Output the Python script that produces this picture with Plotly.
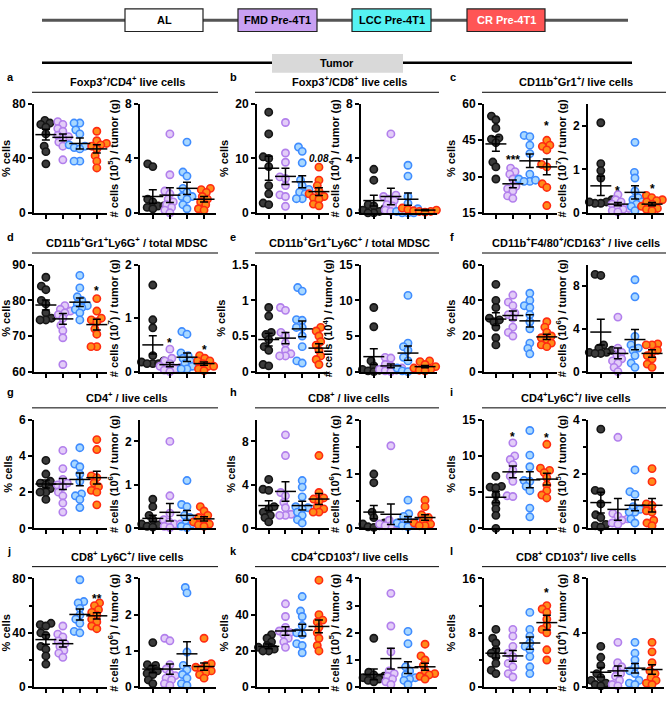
import math
import plotly.graph_objects as go

W, H = 667, 704
FONT = "Arial, Liberation Sans, sans-serif"

groups = ["AL", "FMD Pre-4T1", "LCC Pre-4T1", "CR Pre-4T1"]
fill_colors = ["#3b3b3b", "#e3cdf8", "#a9d8ff", "#ff8c1a"]
edge_colors = ["#151515", "#b27fec", "#3f8cff", "#ff2b12"]

# ---------------- data (AL, FMD, LCC, CR) ----------------
a_pct = [[68, 66, 65, 63, 58, 49, 45, 36],
         [67, 65, 62, 60, 57, 56, 55, 52, 49, 39],
         [66, 66, 61, 58, 50, 49, 48, 47, 38, 38],
         [60, 53, 51, 50, 49, 47, 42, 38, 33]]
a_pct_mean = [57.5, 55.5, 51, 47]
a_pct_sem = [4, 2.5, 4, 3]
a_num = [[3.6, 3.4, 1.0, 0.8, 0.5, 0.4, 0.3, 0.5],
         [5.8, 2.8, 1.6, 1.4, 1.0, 0.8, 0.6, 0.4, 0.2, 0.0],
         [5.2, 3.0, 2.7, 1.8, 1.5, 1.2, 1.2, 1.0, 0.6, 0.3],
         [1.8, 1.7, 1.5, 1.2, 1.0, 0.8, 0.6, 0.3, 0.2]]
a_num_mean = [1.2, 1.3, 1.8, 1.0]
a_num_sem = [0.5, 0.55, 0.45, 0.2]

b_pct = [[18.5, 14.5, 10.3, 10.0, 8.5, 5.0, 3.5, 1.8, 1.5],
         [16.6, 11.0, 9.3, 6.6, 6.3, 5.0, 3.3, 3.0, 1.2],
         [12.1, 11.3, 9.2, 6.0, 5.0, 4.3, 3.8, 3.5, 2.6, 2.6],
         [8.4, 6.0, 5.0, 4.0, 3.5, 3.0, 2.8, 2.5, 1.6, 1.3]]
b_pct_mean = [8.2, 6.7, 5.7, 3.9]
b_pct_sem = [2.2, 1.5, 1.1, 0.7]
b_num = [[3.2, 2.4, 0.6, 0.5, 0.3, 0.2, 0.1, 0.0, 0.0],
         [5.8, 1.3, 1.2, 1.0, 0.9, 0.6, 0.5, 0.2, 0.1],
         [3.5, 2.7, 1.2, 0.7, 0.3, 0.1, 0.0, 0.0, 0.0],
         [0.4, 0.35, 0.3, 0.25, 0.2, 0.15, 0.1, 0.1, 0.05]]
b_num_mean = [0.9, 1.2, 1.0, 0.2]
b_num_sem = [0.4, 0.6, 0.45, 0.05]

c_pct = [[55, 53.5, 50, 46, 45.5, 44, 36, 34, 29],
         [33.5, 32, 31, 29, 26, 25, 24, 22, 21],
         [47, 46.5, 43, 39.5, 31, 29, 28, 28, 28.5],
         [45, 43, 42.5, 41, 35, 34, 27, 25.5, 18]]
c_pct_mean = [43.5, 27, 36.5, 34]
c_pct_sem = [3, 1.6, 2.8, 3.3]
c_num = [[2.07, 1.13, 0.97, 0.8, 0.3, 0.25, 0.22, 0.22, 0.25],
         [0.42, 0.3, 0.25, 0.2, 0.15, 0.1, 0.08, 0.05, 0.02],
         [1.62, 0.93, 0.8, 0.5, 0.35, 0.3, 0.25, 0.2, 0.15, 0.05],
         [0.4, 0.35, 0.3, 0.28, 0.25, 0.2, 0.15, 0.1, 0.08, 0.05]]
c_num_mean = [0.62, 0.2, 0.47, 0.2]
c_num_sem = [0.22, 0.04, 0.15, 0.04]

d_pct = [[86.5, 84, 83, 80, 79, 76.5, 75, 74.5, 74.5],
         [78.5, 77.5, 77, 76.5, 76, 75, 73, 71.5, 69.5, 62],
         [87, 83.5, 81, 80, 79, 78.5, 78, 77.5, 76.5, 74.5],
         [80.5, 77, 75, 74.5, 74, 72, 70.5, 67, 67]]
d_pct_mean = [78.7, 74.8, 79.5, 73.2]
d_pct_sem = [1.4, 1.5, 1.2, 1.5]
d_num = [[1.62, 0.97, 0.82, 0.3, 0.2, 0.18, 0.15, 0.15, 0.15],
         [0.42, 0.25, 0.2, 0.15, 0.1, 0.08, 0.05, 0.03, 0.0],
         [0.75, 0.7, 0.35, 0.3, 0.25, 0.2, 0.15, 0.1, 0.05, 0.05],
         [0.3, 0.25, 0.2, 0.2, 0.15, 0.1, 0.1, 0.05, 0.02]]
d_num_mean = [0.5, 0.13, 0.27, 0.15]
d_num_sem = [0.17, 0.04, 0.08, 0.03]

e_pct = [[0.9, 0.78, 0.55, 0.52, 0.45, 0.35, 0.3, 0.1, 0.08],
         [0.9, 0.86, 0.55, 0.5, 0.4, 0.3, 0.25, 0.22, 0.22],
         [1.18, 1.13, 0.73, 0.72, 0.62, 0.62, 0.5, 0.35, 0.15, 0.12],
         [0.62, 0.57, 0.5, 0.42, 0.37, 0.3, 0.22, 0.17, 0.1]]
e_pct_mean = [0.45, 0.47, 0.6, 0.33]
e_pct_sem = [0.09, 0.08, 0.11, 0.06]
e_num = [[9.0, 6.3, 1.5, 0.8, 0.5, 0.3, 0.2, 0.1, 0.0],
         [2.0, 1.9, 1.0, 0.8, 0.5, 0.3, 0.2, 0.1, 0.0],
         [10.7, 4.0, 3.5, 3.0, 2.0, 1.5, 0.5, 0.3, 0.1, 0.0],
         [1.5, 1.4, 1.0, 0.8, 0.7, 0.5, 0.3, 0.2, 0.1]]
e_num_mean = [2.1, 0.8, 2.6, 0.7]
e_num_sem = [1.1, 0.25, 1.0, 0.15]

f_pct = [[49, 40, 36, 30, 29, 28, 25, 19, 15],
         [43, 39, 37, 33, 32, 30, 25, 22, 20],
         [44, 40, 37, 36, 32, 28, 24, 16, 13, 10],
         [28, 25, 22, 20, 19, 18, 16, 15, 14]]
f_pct_mean = [29.5, 31.5, 28.5, 19.5]
f_pct_sem = [3.6, 2.5, 3.5, 1.5]
f_num = [[9.1, 9.0, 2.5, 2.2, 2.0, 1.8, 1.8, 1.7, 1.7],
         [5.1, 2.2, 1.8, 1.5, 1.2, 1.0, 0.8, 0.4, 0.0],
         [8.6, 7.0, 3.3, 2.5, 2.2, 2.0, 1.5, 0.8, 0.4],
         [2.6, 2.5, 2.5, 2.0, 1.8, 1.5, 1.2, 0.7, 0.4]]
f_num_mean = [3.7, 1.7, 3.0, 1.7]
f_num_sem = [1.2, 0.5, 0.95, 0.35]

g_pct = [[3.75, 3.0, 2.6, 2.5, 2.4, 2.2, 2.0, 2.0, 1.6],
         [4.3, 3.3, 2.7, 2.5, 2.4, 2.3, 2.0, 1.8, 1.4, 0.9],
         [4.45, 3.55, 3.4, 3.0, 2.6, 1.9, 1.8, 1.6, 1.15],
         [4.9, 4.35, 2.9, 2.8, 2.5, 2.3, 2.1, 2.0, 1.3]]
g_pct_mean = [2.45, 2.45, 2.7, 2.8]
g_pct_sem = [0.22, 0.3, 0.35, 0.35]
g_num = [[0.67, 0.5, 0.3, 0.2, 0.15, 0.1, 0.08, 0.05, 0.03],
         [2.0, 0.75, 0.35, 0.2, 0.15, 0.1, 0.1, 0.05, 0.02],
         [1.1, 0.55, 0.5, 0.3, 0.25, 0.15, 0.1, 0.05, 0.02],
         [0.5, 0.4, 0.3, 0.25, 0.2, 0.15, 0.1, 0.08, 0.05]]
g_num_mean = [0.23, 0.37, 0.3, 0.22]
g_num_sem = [0.07, 0.2, 0.11, 0.05]

h_pct = [[4.5, 3.6, 3.5, 2.0, 1.8, 1.5, 1.2, 1.0, 0.6],
         [8.6, 6.7, 3.3, 3.0, 2.4, 1.9, 1.3, 1.2, 1.2],
         [4.4, 3.8, 2.9, 2.0, 1.9, 1.8, 1.5, 1.2, 0.8, 0.5],
         [6.7, 3.3, 2.8, 2.7, 2.5, 2.0, 1.8, 1.5, 1.5]]
h_pct_mean = [2.1, 3.4, 2.1, 2.7]
h_pct_sem = [0.45, 0.9, 0.4, 0.5]
h_num = [[1.0, 0.84, 0.3, 0.2, 0.1, 0.08, 0.05, 0.03, 0.02],
         [1.52, 0.15, 0.1, 0.08, 0.08, 0.05, 0.05],
         [0.52, 0.27, 0.22, 0.15, 0.12, 0.1, 0.08, 0.05, 0.03],
         [0.52, 0.4, 0.25, 0.2, 0.15, 0.1, 0.08, 0.05, 0.05]]
h_num_mean = [0.3, 0.26, 0.17, 0.2]
h_num_sem = [0.12, 0.19, 0.05, 0.05]

i_pct = [[7.2, 5.8, 5.7, 5.6, 4.6, 3.5, 2.7, 1.8, 0.0],
         [11.8, 10.0, 9.5, 8.8, 8.0, 7.2, 6.5, 4.5, 4.4],
         [13.5, 10.1, 8.5, 6.6, 6.5, 5.8, 5.2, 2.8, 1.6],
         [11.6, 8.3, 8.0, 7.7, 7.0, 6.0, 5.2, 4.6, 4.2]]
i_pct_mean = [4.3, 7.8, 6.7, 6.8]
i_pct_sem = [0.75, 0.8, 1.1, 0.8]
i_num = [[3.65, 1.4, 1.35, 0.9, 0.5, 0.4, 0.15, 0.1, 0.05],
         [3.35, 0.55, 0.45, 0.35, 0.3, 0.2, 0.15],
         [2.15, 1.35, 1.25, 0.8, 0.7, 0.6, 0.6, 0.35, 0.2],
         [2.2, 1.72, 0.9, 0.85, 0.65, 0.6, 0.3, 0.2, 0.1]]
i_num_mean = [0.95, 0.7, 0.85, 0.85]
i_num_sem = [0.38, 0.4, 0.2, 0.25]

j_pct = [[47, 46, 45, 40, 38, 30, 28, 23, 17],
         [45, 39, 37, 34, 32, 30, 27, 25, 22],
         [79, 63, 62, 58, 53, 50, 47, 41, 40],
         [62, 60, 57, 55, 53, 50, 48, 45, 43]]
j_pct_mean = [35, 32, 53.5, 52.5]
j_pct_sem = [3.5, 2.5, 4, 2.3]
j_num = [[1.23, 0.62, 0.6, 0.5, 0.45, 0.38, 0.35, 0.2, 0.1],
         [1.35, 1.28, 0.62, 0.5, 0.38, 0.32, 0.25, 0.2, 0.1, 0.05],
         [2.75, 2.6, 0.97, 0.6, 0.48, 0.35, 0.25, 0.1, 0.05],
         [1.35, 0.65, 0.6, 0.55, 0.5, 0.45, 0.4, 0.35, 0.25]]
j_num_mean = [0.5, 0.5, 0.92, 0.57]
j_num_sem = [0.1, 0.14, 0.33, 0.1]

k_pct = [[29, 27, 25, 23, 22, 21, 20, 20],
         [46, 39, 33, 31, 30, 29, 27, 25, 22],
         [50, 42, 39, 34, 30, 29, 24, 23, 19],
         [59, 40, 37, 36, 33, 30, 27, 23, 20]]
k_pct_mean = [22.5, 31, 31.5, 33.5]
k_pct_sem = [1.3, 2.3, 3.2, 3.5]
k_num = [[1.8, 0.55, 0.45, 0.4, 0.35, 0.3, 0.25, 0.2],
         [3.45, 2.25, 1.3, 0.6, 0.5, 0.4, 0.3, 0.2, 0.1],
         [2.05, 1.6, 0.75, 0.6, 0.45, 0.35, 0.3, 0.25, 0.1],
         [1.58, 1.15, 1.0, 0.8, 0.6, 0.5, 0.45, 0.4, 0.3]]
k_num_mean = [0.47, 1.05, 0.72, 0.75]
k_num_sem = [0.2, 0.38, 0.22, 0.13]

l_pct = [[8.5, 7.2, 6.5, 5.5, 5.0, 4.5, 3.5, 2.5, 2.0],
         [8.5, 7.5, 6.0, 5.0, 4.5, 3.5, 3.0, 2.0, 1.5],
         [11, 8.5, 7.5, 6.5, 6.0, 5.5, 4.5, 3.0, 2.0],
         [12, 11.5, 11, 10, 9, 8.5, 8, 5.5, 4]]
l_pct_mean = [5.0, 4.6, 6.5, 9.5]
l_pct_sem = [0.7, 0.8, 0.9, 1.1]
l_num = [[3.0, 2.2, 1.6, 1.0, 0.7, 0.5, 0.3, 0.2, 0.1],
         [3.3, 1.8, 1.5, 1.3, 1.0, 0.8, 0.5, 0.2, 0.1],
         [3.3, 2.5, 2.0, 1.5, 1.2, 1.0, 0.5, 0.3, 0.2],
         [3.3, 2.6, 1.8, 1.2, 1.0, 0.7, 0.5, 0.3, 0.2]]
l_num_mean = [1.1, 1.2, 1.4, 1.3]
l_num_sem = [0.35, 0.35, 0.35, 0.35]

# significance labels: (group index, value, text)
b_pct_stars = [(3, 10.0, "<i>0.08</i>")]
c_pct_stars = [(1, 36.7, "***"), (3, 50.9, "*")]
c_num_stars = [(1, 0.51, "*"), (3, 0.55, "*")]
d_pct_stars = [(3, 82.7, "*")]
d_num_stars = [(1, 0.53, "*"), (3, 0.40, "*")]
i_pct_stars = [(1, 12.6, "*"), (3, 12.5, "*")]
j_pct_stars = [(2, 82.3, "*"), (3, 65.2, "**")]
k_pct_stars = [(3, 64, "*")]
l_pct_stars = [(3, 13.8, "*")]

timeline_labels = ["AL", "FMD Pre-4T1", "LCC Pre-4T1", "CR Pre-4T1"]
timeline_fill = ["#ffffff", "#c9a0f2", "#55f2f2", "#ff5555"]
timeline_text = ["black", "black", "black", "white"]

panels = [
    dict(lab="a", title="Foxp3<sup>+</sup>/CD4<sup>+</sup> live cells",
         L=(a_pct, a_pct_mean, a_pct_sem, [0, 80], [0, 40, 80], None, []),
         R=(a_num, a_num_mean, a_num_sem, [0, 8], [0, 4, 8], None, []), exp=5),
    dict(lab="b", title="Foxp3<sup>+</sup>/CD8<sup>+</sup> live cells",
         L=(b_pct, b_pct_mean, b_pct_sem, [0, 20], [0, 10, 20], None, b_pct_stars),
         R=(b_num, b_num_mean, b_num_sem, [0, 8], [0, 4, 8], None, []), exp=4),
    dict(lab="c", title="CD11b<sup>+</sup>Gr1<sup>+</sup>/ live cells",
         L=(c_pct, c_pct_mean, c_pct_sem, [15, 60], [15, 30, 45, 60], None, c_pct_stars),
         R=(c_num, c_num_mean, c_num_sem, [0, 2.5], [0, 1, 2], None, c_num_stars), exp=7),
    dict(lab="d", title="CD11b<sup>+</sup>Gr1<sup>+</sup>Ly6G<sup>+</sup> / total MDSC",
         L=(d_pct, d_pct_mean, d_pct_sem, [60, 90], [60, 70, 80, 90], None, d_pct_stars),
         R=(d_num, d_num_mean, d_num_sem, [0, 2], [0, 1, 2], None, d_num_stars), exp=7),
    dict(lab="e", title="CD11b<sup>+</sup>Gr1<sup>+</sup>Ly6C<sup>+</sup> / total MDSC",
         L=(e_pct, e_pct_mean, e_pct_sem, [0, 1.5], [0, 0.5, 1.0, 1.5], None, []),
         R=(e_num, e_num_mean, e_num_sem, [0, 15], [0, 5, 10, 15], None, []), exp=4),
    dict(lab="f", title="CD11b<sup>+</sup>F4/80<sup>+</sup>/CD163<sup>+</sup> / live cells",
         L=(f_pct, f_pct_mean, f_pct_sem, [0, 60], [0, 20, 40, 60], None, []),
         R=(f_num, f_num_mean, f_num_sem, [0, 10], [0, 4, 8], None, []), exp=6),
    dict(lab="g", title="CD4<sup>+</sup> / live cells",
         L=(g_pct, g_pct_mean, g_pct_sem, [0, 6], [0, 2, 4, 6], None, []),
         R=(g_num, g_num_mean, g_num_sem, [0, 2.5], [0, 1, 2], None, []), exp=6),
    dict(lab="h", title="CD8<sup>+</sup> / live cells",
         L=(h_pct, h_pct_mean, h_pct_sem, [0, 10], [0, 4, 8], None, []),
         R=(h_num, h_num_mean, h_num_sem, [0, 2], [0, 1, 2], [0.5, 1.5], []), exp=6),
    dict(lab="i", title="CD4<sup>+</sup>Ly6C<sup>+</sup>/ live cells",
         L=(i_pct, i_pct_mean, i_pct_sem, [0, 15], [0, 5, 10, 15], None, i_pct_stars),
         R=(i_num, i_num_mean, i_num_sem, [0, 4], [0, 2, 4], [1, 3], []), exp=5),
    dict(lab="j", title="CD8<sup>+</sup> Ly6C<sup>+</sup>/ live cells",
         L=(j_pct, j_pct_mean, j_pct_sem, [0, 80], [0, 40, 80], [20, 60], j_pct_stars),
         R=(j_num, j_num_mean, j_num_sem, [0, 3], [0, 1, 2, 3], None, []), exp=6),
    dict(lab="k", title="CD4<sup>+</sup>CD103<sup>+</sup>/ live cells",
         L=(k_pct, k_pct_mean, k_pct_sem, [0, 60], [0, 20, 40, 60], None, k_pct_stars),
         R=(k_num, k_num_mean, k_num_sem, [0, 4], [0, 1, 2, 3, 4], None, []), exp=5),
    dict(lab="l", title="CD8<sup>+</sup> CD103<sup>+</sup>/ live cells",
         L=(l_pct, l_pct_mean, l_pct_sem, [0, 16], [0, 8, 16], [4, 12], l_pct_stars),
         R=(l_num, l_num_mean, l_num_sem, [0, 8], [0, 4, 8], None, []), exp=4),
]

# ---------------- layout geometry (pixels) ----------------
row_tb = [(99, 210), (263, 372), (421, 532), (583, 694)]
col_lr = [((34, 107), (140, 216)), ((257, 329), (361, 437)), ((484, 557), (588, 664))]
XR_L = [-0.7, 3.6]
XR_R = [-0.75, 3.7]
MS = 7.3


def px(x):
    return x / W


def py(y):
    return 1 - y / H


def swarm(vals, ppu_y, d):
    placed = []
    offs = [0.0] * len(vals)
    order = sorted(range(len(vals)), key=lambda i: vals[i])
    for i in order:
        y = vals[i] * ppu_y
        cands = [0.0]
        for xp, yp in placed:
            dy = abs(y - yp)
            if dy < d:
                dx = math.sqrt(d * d - dy * dy)
                cands += [xp + dx, xp - dx]
        cands.sort(key=lambda c: (abs(c), c))
        chosen = 0.0
        for c in cands:
            if all((c - xp) ** 2 + (y - yp) ** 2 >= d * d - 1e-6 for xp, yp in placed):
                chosen = c
                break
        placed.append((chosen, y))
        offs[i] = chosen
    return offs


fig = go.Figure()
layout = dict(width=W, height=H, margin=dict(l=0, r=0, t=0, b=0),
              paper_bgcolor="white", plot_bgcolor="white", showlegend=False,
              font=dict(family=FONT, color="black"))
annotations = []
shapes = []

k = 0
for pi, p in enumerate(panels):
    r, c = divmod(pi, 3)
    top, bot = row_tb[r]
    for side in ("L", "R"):
        k += 1
        pts, mean, sem, yr, tv, minor, stars = p[side]
        x0, x1 = col_lr[c][0] if side == "L" else col_lr[c][1]
        xr = XR_L if side == "L" else XR_R
        ppu_y = (bot - top) / (yr[1] - yr[0])
        ppu_x = (x1 - x0) / (xr[1] - xr[0])
        xa = "x" if k == 1 else f"x{k}"
        ya = "y" if k == 1 else f"y{k}"
        for gi in range(4):
            offs = swarm(pts[gi], ppu_y, 5.8)
            fig.add_trace(go.Scatter(
                x=[gi + o / ppu_x for o in offs], y=pts[gi], mode="markers",
                xaxis=xa, yaxis=ya, cliponaxis=False, name=groups[gi],
                marker=dict(size=MS, color=fill_colors[gi],
                            line=dict(color=edge_colors[gi], width=1.6))))
        fig.add_trace(go.Scatter(
            x=[0, 1, 2, 3], y=mean, mode="markers", xaxis=xa, yaxis=ya, cliponaxis=False,
            marker=dict(symbol="line-ew", size=15, color="black",
                        line=dict(color="black", width=1.5)),
            error_y=dict(type="data", array=sem, width=4, thickness=1.5, color="black")))
        for gi, yv, txt in stars:
            annotations.append(dict(x=gi, y=yv, xref=xa, yref=ya, text=txt, showarrow=False,
                                    xanchor="center", yanchor="middle",
                                    font=dict(size=10 if "0.08" in txt else 12, weight="bold",
                                              family=FONT)))
        if side == "L":
            ytitle = "% cells"
        else:
            ytitle = f"# cells (10<sup>{p['exp']}</sup>) / tumor (g)"
        axkey = "xaxis" if k == 1 else f"xaxis{k}"
        aykey = "yaxis" if k == 1 else f"yaxis{k}"
        layout[axkey] = dict(domain=[px(x0), px(x1)], range=xr, anchor=ya,
                             showgrid=False, zeroline=False, showline=True,
                             linecolor="black", linewidth=2, tickvals=[0, 1, 2, 3],
                             ticks="outside", ticklen=4, tickwidth=1.5, tickcolor="black",
                             showticklabels=False)
        yax = dict(domain=[py(bot), py(top)], range=yr, anchor=xa,
                   showgrid=False, zeroline=False, showline=True,
                   linecolor="black", linewidth=2, tickvals=tv,
                   ticks="outside", ticklen=4, tickwidth=2, tickcolor="black",
                   tickfont=dict(size=12, weight="bold", family=FONT),
                   title=dict(text=ytitle, standoff=4,
                              font=dict(size=11, weight="bold", family=FONT)))
        if minor:
            yax["minor"] = dict(tickvals=minor, ticks="outside", ticklen=3,
                                tickwidth=2, tickcolor="black")
        layout[aykey] = yax
    # panel title, underline, label
    lx0 = col_lr[c][0][0]
    rx1 = col_lr[c][1][1]
    annotations.append(dict(x=px((lx0 + rx1) / 2 + 2), y=py(top - 23), xref="paper", yref="paper",
                            text=p["title"], showarrow=False, xanchor="center", yanchor="middle",
                            font=dict(size=11, weight="bold", family=FONT)))
    shapes.append(dict(type="line", xref="paper", yref="paper",
                       x0=px(lx0 - 2), x1=px(min(rx1 + 2, W)), y0=py(top - 12), y1=py(top - 12),
                       line=dict(color="black", width=1)))
    annotations.append(dict(x=px([5, 228, 448][c]), y=py(top - 28), xref="paper", yref="paper",
                            text=p["lab"], showarrow=False, xanchor="left", yanchor="middle",
                            font=dict(size=11, weight="bold", family=FONT)))

# ---------------- timeline schematic ----------------
shapes.append(dict(type="line", xref="paper", yref="paper", x0=px(42), x1=px(628),
                   y0=py(13.5), y1=py(13.5), line=dict(color="#555555", width=3)))
box_x = [(125, 203), (238, 317), (352, 431), (467, 545)]
for (bx0, bx1), lab, fc, tc in zip(box_x, timeline_labels, timeline_fill, timeline_text):
    shapes.append(dict(type="rect", xref="paper", yref="paper", x0=px(bx0), x1=px(bx1),
                       y0=py(25), y1=py(2), fillcolor=fc, line=dict(color="#222222", width=1.2)))
    annotations.append(dict(x=px((bx0 + bx1) / 2), y=py(13.5), xref="paper", yref="paper",
                            text=lab, showarrow=False, xanchor="center", yanchor="middle",
                            font=dict(size=11, weight="bold", color=tc, family=FONT)))
shapes.append(dict(type="line", xref="paper", yref="paper", x0=px(42), x1=px(632),
                   y0=py(57), y1=py(57), line=dict(color="black", width=2.5)))
shapes.append(dict(type="rect", xref="paper", yref="paper", x0=px(272), x1=px(403),
                   y0=py(67), y1=py(48), fillcolor="#d9d9d9", line=dict(width=0)))
annotations.append(dict(x=px(337), y=py(57.5), xref="paper", yref="paper", text="Tumor",
                        showarrow=False, xanchor="center", yanchor="middle",
                        font=dict(size=11, weight="bold", family=FONT)))

layout["annotations"] = annotations
layout["shapes"] = shapes
fig.update_layout(**layout)
fig.write_html(
    "out.html",
    config={"displayModeBar": False, "responsive": False},
    post_script=("var s=document.documentElement.style;s.margin='0';s.padding='0';"
                 "s.overflow='hidden';s.height='704px';"
                 "var b=document.body.style;b.margin='0';b.padding='0';"
                 "b.overflow='hidden';b.height='704px';"))
